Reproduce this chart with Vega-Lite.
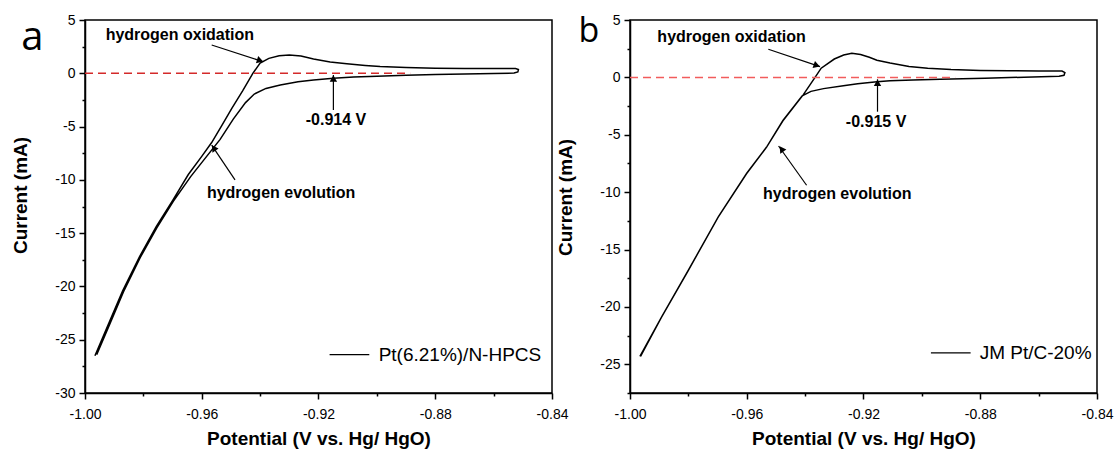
{
  "$schema": "https://vega.github.io/schema/vega-lite/v6.json",
  "background": "white",
  "padding": {"left": 11, "top": 12, "right": 0, "bottom": 0},
  "bounds": "flush",
  "spacing": 78,
  "resolve": {"scale": {"x": "independent", "y": "independent"}, "axis": {"x": "independent", "y": "independent"}},
  "config": {
    "font": "Liberation Sans",
    "view": {"stroke": "black", "strokeWidth": 1.5},
    "axis": {
      "grid": false,
      "domainColor": "black",
      "domainWidth": 1.5,
      "tickColor": "black",
      "tickWidth": 1.5,
      "labelColor": "black",
      "labelFont": "Liberation Sans",
      "labelFontSize": 14,
      "titleColor": "black",
      "titleFont": "Liberation Sans",
      "titleFontSize": 19,
      "titleFontWeight": "bold",
      "labelFlush": false,
      "labelOverlap": false
    }
  },
  "datasets": {
    "cvA": [
      {"seq": 1, "potential": -0.9966, "current": -26.5},
      {"seq": 2, "potential": -0.9916, "current": -23.3},
      {"seq": 3, "potential": -0.9871, "current": -20.4},
      {"seq": 4, "potential": -0.9813, "current": -17.2},
      {"seq": 5, "potential": -0.9756, "current": -14.4},
      {"seq": 6, "potential": -0.9699, "current": -11.9},
      {"seq": 7, "potential": -0.9646, "current": -9.5},
      {"seq": 8, "potential": -0.96, "current": -7.8},
      {"seq": 9, "potential": -0.9566, "current": -6.5},
      {"seq": 10, "potential": -0.953, "current": -4.85},
      {"seq": 11, "potential": -0.9497, "current": -3.3},
      {"seq": 12, "potential": -0.946, "current": -1.65},
      {"seq": 13, "potential": -0.9425, "current": 0.0},
      {"seq": 14, "potential": -0.94, "current": 0.95},
      {"seq": 15, "potential": -0.937, "current": 1.4},
      {"seq": 16, "potential": -0.9335, "current": 1.64},
      {"seq": 17, "potential": -0.93, "current": 1.71},
      {"seq": 18, "potential": -0.926, "current": 1.62},
      {"seq": 19, "potential": -0.9217, "current": 1.35},
      {"seq": 20, "potential": -0.916, "current": 1.07},
      {"seq": 21, "potential": -0.9103, "current": 0.9},
      {"seq": 22, "potential": -0.904, "current": 0.74},
      {"seq": 23, "potential": -0.8989, "current": 0.64},
      {"seq": 24, "potential": -0.89, "current": 0.54},
      {"seq": 25, "potential": -0.88, "current": 0.48},
      {"seq": 26, "potential": -0.87, "current": 0.45},
      {"seq": 27, "potential": -0.86, "current": 0.44},
      {"seq": 28, "potential": -0.8525, "current": 0.44},
      {"seq": 29, "potential": -0.8515, "current": 0.36},
      {"seq": 30, "potential": -0.8517, "current": 0.12},
      {"seq": 31, "potential": -0.853, "current": 0.02},
      {"seq": 32, "potential": -0.86, "current": -0.03},
      {"seq": 33, "potential": -0.87, "current": -0.07},
      {"seq": 34, "potential": -0.88, "current": -0.12},
      {"seq": 35, "potential": -0.89, "current": -0.19},
      {"seq": 36, "potential": -0.9, "current": -0.27},
      {"seq": 37, "potential": -0.908, "current": -0.36},
      {"seq": 38, "potential": -0.9149, "current": -0.46},
      {"seq": 39, "potential": -0.9217, "current": -0.62},
      {"seq": 40, "potential": -0.927, "current": -0.8},
      {"seq": 41, "potential": -0.9331, "current": -1.1},
      {"seq": 42, "potential": -0.938, "current": -1.42},
      {"seq": 43, "potential": -0.942, "current": -1.95},
      {"seq": 44, "potential": -0.945, "current": -2.75},
      {"seq": 45, "potential": -0.9492, "current": -4.3},
      {"seq": 46, "potential": -0.9537, "current": -6.2},
      {"seq": 47, "potential": -0.9592, "current": -8.1},
      {"seq": 48, "potential": -0.9638, "current": -9.7},
      {"seq": 49, "potential": -0.9697, "current": -12.0},
      {"seq": 50, "potential": -0.9754, "current": -14.5},
      {"seq": 51, "potential": -0.9811, "current": -17.3},
      {"seq": 52, "potential": -0.9868, "current": -20.5},
      {"seq": 53, "potential": -0.9913, "current": -23.4},
      {"seq": 54, "potential": -0.996, "current": -26.4}
    ],
    "cvB": [
      {"seq": 1, "potential": -0.9966, "current": -24.3},
      {"seq": 2, "potential": -0.9891, "current": -20.84},
      {"seq": 3, "potential": -0.98, "current": -16.8},
      {"seq": 4, "potential": -0.9697, "current": -12.13},
      {"seq": 5, "potential": -0.96, "current": -8.35},
      {"seq": 6, "potential": -0.9531, "current": -6.03},
      {"seq": 7, "potential": -0.9474, "current": -3.71},
      {"seq": 8, "potential": -0.9406, "current": -1.5},
      {"seq": 9, "potential": -0.9366, "current": 0.0},
      {"seq": 10, "potential": -0.9345, "current": 0.8},
      {"seq": 11, "potential": -0.93, "current": 1.6},
      {"seq": 12, "potential": -0.9268, "current": 1.95},
      {"seq": 13, "potential": -0.924, "current": 2.1},
      {"seq": 14, "potential": -0.921, "current": 2.0},
      {"seq": 15, "potential": -0.918, "current": 1.75},
      {"seq": 16, "potential": -0.9154, "current": 1.5},
      {"seq": 17, "potential": -0.9109, "current": 1.25},
      {"seq": 18, "potential": -0.9044, "current": 0.95},
      {"seq": 19, "potential": -0.898, "current": 0.8},
      {"seq": 20, "potential": -0.89, "current": 0.68},
      {"seq": 21, "potential": -0.88, "current": 0.61},
      {"seq": 22, "potential": -0.87, "current": 0.58},
      {"seq": 23, "potential": -0.86, "current": 0.56},
      {"seq": 24, "potential": -0.852, "current": 0.55},
      {"seq": 25, "potential": -0.851, "current": 0.42},
      {"seq": 26, "potential": -0.8513, "current": 0.18},
      {"seq": 27, "potential": -0.853, "current": 0.1},
      {"seq": 28, "potential": -0.865, "current": 0.02},
      {"seq": 29, "potential": -0.8784, "current": -0.08},
      {"seq": 30, "potential": -0.8937, "current": -0.16},
      {"seq": 31, "potential": -0.903, "current": -0.23},
      {"seq": 32, "potential": -0.9109, "current": -0.3},
      {"seq": 33, "potential": -0.9154, "current": -0.38},
      {"seq": 34, "potential": -0.922, "current": -0.55},
      {"seq": 35, "potential": -0.9269, "current": -0.72},
      {"seq": 36, "potential": -0.9337, "current": -0.98},
      {"seq": 37, "potential": -0.938, "current": -1.22},
      {"seq": 38, "potential": -0.941, "current": -1.6},
      {"seq": 39, "potential": -0.9476, "current": -3.75},
      {"seq": 40, "potential": -0.9532, "current": -6.07},
      {"seq": 41, "potential": -0.9601, "current": -8.4},
      {"seq": 42, "potential": -0.9698, "current": -12.18},
      {"seq": 43, "potential": -0.9801, "current": -16.85},
      {"seq": 44, "potential": -0.9892, "current": -20.9},
      {"seq": 45, "potential": -0.9964, "current": -24.3}
    ],
    "zeroA": [{"from": -1.0, "to": -0.8886, "level": 0}],
    "zeroB": [{"from": -1.0, "to": -0.8886, "level": 0}],
    "shaftsA": [
      {"arrow": "oxidation", "x1": -0.9566, "y1": 2.65, "x2": -0.9389, "y2": 1.08},
      {"arrow": "onset", "x1": -0.9149, "y1": -3.45, "x2": -0.9149, "y2": -0.16},
      {"arrow": "evolution", "x1": -0.9486, "y1": -10.0, "x2": -0.9566, "y2": -6.74}
    ],
    "shaftsB": [
      {"arrow": "oxidation", "x1": -0.9526, "y1": 2.45, "x2": -0.9349, "y2": 0.94},
      {"arrow": "onset", "x1": -0.9152, "y1": -2.99, "x2": -0.9152, "y2": -0.17},
      {"arrow": "evolution", "x1": -0.9395, "y1": -9.4, "x2": -0.9491, "y2": -5.98}
    ],
    "headsA": [
      {"arrow": "oxidation", "potential": -0.94, "current": 1.19},
      {"arrow": "onset", "potential": -0.9149, "current": -0.49},
      {"arrow": "evolution", "potential": -0.9559, "current": -7.01}
    ],
    "headsB": [
      {"arrow": "oxidation", "potential": -0.936, "current": 1.03},
      {"arrow": "onset", "potential": -0.9152, "current": -0.47},
      {"arrow": "evolution", "potential": -0.9481, "current": -6.23}
    ],
    "notesA": [
      {"potential": -0.9675, "current": 3.62, "note": "hydrogen oxidation"},
      {"potential": -0.914, "current": -4.35, "note": "-0.914 V"},
      {"potential": -0.9328, "current": -11.28, "note": "hydrogen evolution"}
    ],
    "notesB": [
      {"potential": -0.9652, "current": 3.55, "note": "hydrogen oxidation"},
      {"potential": -0.9157, "current": -3.9, "note": "-0.915 V"},
      {"potential": -0.929, "current": -10.16, "note": "hydrogen evolution"}
    ],
    "keyA": [{"x1": -0.9162, "x2": -0.9026, "current": -26.4, "textAt": -0.8994, "name": "Pt(6.21%)/N-HPCS"}],
    "keyB": [{"x1": -0.8969, "x2": -0.8833, "current": -24.0, "textAt": -0.8802, "name": "JM Pt/C-20%"}],
    "letterA": [{"potential": -1.018, "current": 2.18, "letter": "a"}],
    "letterB": [{"potential": -1.0141, "current": 3.08, "letter": "b"}]
  },
  "hconcat": [
    {
      "width": 467,
      "height": 373,
      "resolve": {"axis": {"x": "independent", "y": "independent"}},
      "layer": [
        {
          "data": {"name": "cvA"},
          "mark": {"type": "line", "color": "black", "strokeWidth": 1.5, "clip": false},
          "encoding": {
            "x": {
              "field": "potential", "type": "quantitative",
              "scale": {"domain": [-1.0, -0.84], "nice": false, "zero": false},
              "axis": {
                "orient": "bottom",
                "title": "Potential (V vs. Hg/ HgO)",
                "values": [-1.0, -0.96, -0.92, -0.88, -0.84],
                "labelExpr": "replace(format(datum.value, '.2f'), '\u2212', '-')",
                "tickSize": 6,
                "labelPadding": 8,
                "titlePadding": 8
              }
            },
            "y": {
              "field": "current", "type": "quantitative",
              "scale": {"domain": [-30, 5], "nice": false, "zero": false},
              "axis": {
                "orient": "left",
                "title": "Current (mA)",
                "values": [-30, -25, -20, -15, -10, -5, 0, 5],
                "labelExpr": "replace(format(datum.value, 'd'), '\u2212', '-')",
                "tickSize": 6,
                "labelPadding": 4,
                "titlePadding": 24,
                "titleY": 175
              }
            },
            "order": {"field": "seq", "type": "quantitative"}
          }
        },
        {
          "data": {"name": "zeroA"},
          "mark": {"type": "rule", "color": "#d42a2a", "strokeDash": [8, 5], "strokeWidth": 1.5},
          "encoding": {
            "x": {
              "field": "from", "type": "quantitative",
              "axis": {"orient": "bottom", "values": [-0.98, -0.94, -0.9, -0.86], "labels": false, "domain": false, "title": null, "tickSize": 3}
            },
            "x2": {"field": "to"},
            "y": {
              "field": "level", "type": "quantitative",
              "axis": {"orient": "left", "values": [-27.5, -22.5, -17.5, -12.5, -7.5, -2.5, 2.5], "labels": false, "domain": false, "title": null, "tickSize": 3}
            }
          }
        },
        {
          "data": {"name": "shaftsA"},
          "mark": {"type": "rule", "color": "black", "strokeWidth": 1.2},
          "encoding": {
            "x": {"field": "x1", "type": "quantitative", "axis": null},
            "y": {"field": "y1", "type": "quantitative", "axis": null},
            "x2": {"field": "x2"},
            "y2": {"field": "y2"}
          }
        },
        {
          "data": {"name": "headsA"},
          "transform": [{"filter": "datum.arrow == 'oxidation'"}],
          "mark": {"type": "point", "shape": "triangle-up", "angle": 108, "size": 55, "filled": true, "color": "black", "opacity": 1},
          "encoding": {"x": {"field": "potential", "type": "quantitative", "axis": null}, "y": {"field": "current", "type": "quantitative", "axis": null}}
        },
        {
          "data": {"name": "headsA"},
          "transform": [{"filter": "datum.arrow == 'onset'"}],
          "mark": {"type": "point", "shape": "triangle-up", "angle": 0, "size": 55, "filled": true, "color": "black", "opacity": 1},
          "encoding": {"x": {"field": "potential", "type": "quantitative", "axis": null}, "y": {"field": "current", "type": "quantitative", "axis": null}}
        },
        {
          "data": {"name": "headsA"},
          "transform": [{"filter": "datum.arrow == 'evolution'"}],
          "mark": {"type": "point", "shape": "triangle-up", "angle": 326, "size": 55, "filled": true, "color": "black", "opacity": 1},
          "encoding": {"x": {"field": "potential", "type": "quantitative", "axis": null}, "y": {"field": "current", "type": "quantitative", "axis": null}}
        },
        {
          "data": {"name": "notesA"},
          "mark": {"type": "text", "font": "Liberation Sans", "fontSize": 16, "fontWeight": "bold", "color": "black", "align": "center", "baseline": "middle"},
          "encoding": {
            "x": {"field": "potential", "type": "quantitative", "axis": null},
            "y": {"field": "current", "type": "quantitative", "axis": null},
            "text": {"field": "note"}
          }
        },
        {
          "data": {"name": "keyA"},
          "mark": {"type": "rule", "color": "black", "strokeWidth": 1.3},
          "encoding": {
            "x": {"field": "x1", "type": "quantitative", "axis": null},
            "x2": {"field": "x2"},
            "y": {"field": "current", "type": "quantitative", "axis": null}
          }
        },
        {
          "data": {"name": "keyA"},
          "mark": {"type": "text", "font": "Liberation Sans", "fontSize": 19, "color": "black", "align": "left", "baseline": "middle"},
          "encoding": {
            "x": {"field": "textAt", "type": "quantitative", "axis": null},
            "y": {"field": "current", "type": "quantitative", "axis": null},
            "text": {"field": "name"}
          }
        },
        {
          "data": {"name": "letterA"},
          "mark": {"type": "text", "font": "Open Sans", "fontSize": 40, "color": "black", "align": "center", "baseline": "alphabetic"},
          "encoding": {
            "x": {"field": "potential", "type": "quantitative", "axis": null},
            "y": {"field": "current", "type": "quantitative", "axis": null},
            "text": {"field": "letter"}
          }
        }
      ]
    },
    {
      "width": 467,
      "height": 373,
      "resolve": {"axis": {"x": "independent", "y": "independent"}},
      "layer": [
        {
          "data": {"name": "cvB"},
          "mark": {"type": "line", "color": "black", "strokeWidth": 1.5, "clip": false},
          "encoding": {
            "x": {
              "field": "potential", "type": "quantitative",
              "scale": {"domain": [-1.0, -0.84], "nice": false, "zero": false},
              "axis": {
                "orient": "bottom",
                "title": "Potential (V vs. Hg/ HgO)",
                "values": [-1.0, -0.96, -0.92, -0.88, -0.84],
                "labelExpr": "replace(format(datum.value, '.2f'), '\u2212', '-')",
                "tickSize": 6,
                "labelPadding": 8,
                "titlePadding": 8
              }
            },
            "y": {
              "field": "current", "type": "quantitative",
              "scale": {"domain": [-27.5, 5], "nice": false, "zero": false},
              "axis": {
                "orient": "left",
                "title": "Current (mA)",
                "values": [-25, -20, -15, -10, -5, 0, 5],
                "labelExpr": "replace(format(datum.value, 'd'), '\u2212', '-')",
                "tickSize": 6,
                "labelPadding": 4,
                "titlePadding": 24,
                "titleY": 177
              }
            },
            "order": {"field": "seq", "type": "quantitative"}
          }
        },
        {
          "data": {"name": "zeroB"},
          "mark": {"type": "rule", "color": "#f25c5c", "strokeDash": [8, 5], "strokeWidth": 1.5},
          "encoding": {
            "x": {
              "field": "from", "type": "quantitative",
              "axis": {"orient": "bottom", "values": [-0.98, -0.94, -0.9, -0.86], "labels": false, "domain": false, "title": null, "tickSize": 3}
            },
            "x2": {"field": "to"},
            "y": {
              "field": "level", "type": "quantitative",
              "axis": {"orient": "left", "values": [-27.5, -22.5, -17.5, -12.5, -7.5, -2.5, 2.5], "labels": false, "domain": false, "title": null, "tickSize": 3}
            }
          }
        },
        {
          "data": {"name": "shaftsB"},
          "mark": {"type": "rule", "color": "black", "strokeWidth": 1.2},
          "encoding": {
            "x": {"field": "x1", "type": "quantitative", "axis": null},
            "y": {"field": "y1", "type": "quantitative", "axis": null},
            "x2": {"field": "x2"},
            "y2": {"field": "y2"}
          }
        },
        {
          "data": {"name": "headsB"},
          "transform": [{"filter": "datum.arrow == 'oxidation'"}],
          "mark": {"type": "point", "shape": "triangle-up", "angle": 109, "size": 55, "filled": true, "color": "black", "opacity": 1},
          "encoding": {"x": {"field": "potential", "type": "quantitative", "axis": null}, "y": {"field": "current", "type": "quantitative", "axis": null}}
        },
        {
          "data": {"name": "headsB"},
          "transform": [{"filter": "datum.arrow == 'onset'"}],
          "mark": {"type": "point", "shape": "triangle-up", "angle": 0, "size": 55, "filled": true, "color": "black", "opacity": 1},
          "encoding": {"x": {"field": "potential", "type": "quantitative", "axis": null}, "y": {"field": "current", "type": "quantitative", "axis": null}}
        },
        {
          "data": {"name": "headsB"},
          "transform": [{"filter": "datum.arrow == 'evolution'"}],
          "mark": {"type": "point", "shape": "triangle-up", "angle": 325, "size": 55, "filled": true, "color": "black", "opacity": 1},
          "encoding": {"x": {"field": "potential", "type": "quantitative", "axis": null}, "y": {"field": "current", "type": "quantitative", "axis": null}}
        },
        {
          "data": {"name": "notesB"},
          "mark": {"type": "text", "font": "Liberation Sans", "fontSize": 16, "fontWeight": "bold", "color": "black", "align": "center", "baseline": "middle"},
          "encoding": {
            "x": {"field": "potential", "type": "quantitative", "axis": null},
            "y": {"field": "current", "type": "quantitative", "axis": null},
            "text": {"field": "note"}
          }
        },
        {
          "data": {"name": "keyB"},
          "mark": {"type": "rule", "color": "black", "strokeWidth": 1.3},
          "encoding": {
            "x": {"field": "x1", "type": "quantitative", "axis": null},
            "x2": {"field": "x2"},
            "y": {"field": "current", "type": "quantitative", "axis": null}
          }
        },
        {
          "data": {"name": "keyB"},
          "mark": {"type": "text", "font": "Liberation Sans", "fontSize": 19, "color": "black", "align": "left", "baseline": "middle"},
          "encoding": {
            "x": {"field": "textAt", "type": "quantitative", "axis": null},
            "y": {"field": "current", "type": "quantitative", "axis": null},
            "text": {"field": "name"}
          }
        },
        {
          "data": {"name": "letterB"},
          "mark": {"type": "text", "font": "Open Sans", "fontSize": 34, "color": "black", "align": "center", "baseline": "alphabetic"},
          "encoding": {
            "x": {"field": "potential", "type": "quantitative", "axis": null},
            "y": {"field": "current", "type": "quantitative", "axis": null},
            "text": {"field": "letter"}
          }
        }
      ]
    }
  ]
}
